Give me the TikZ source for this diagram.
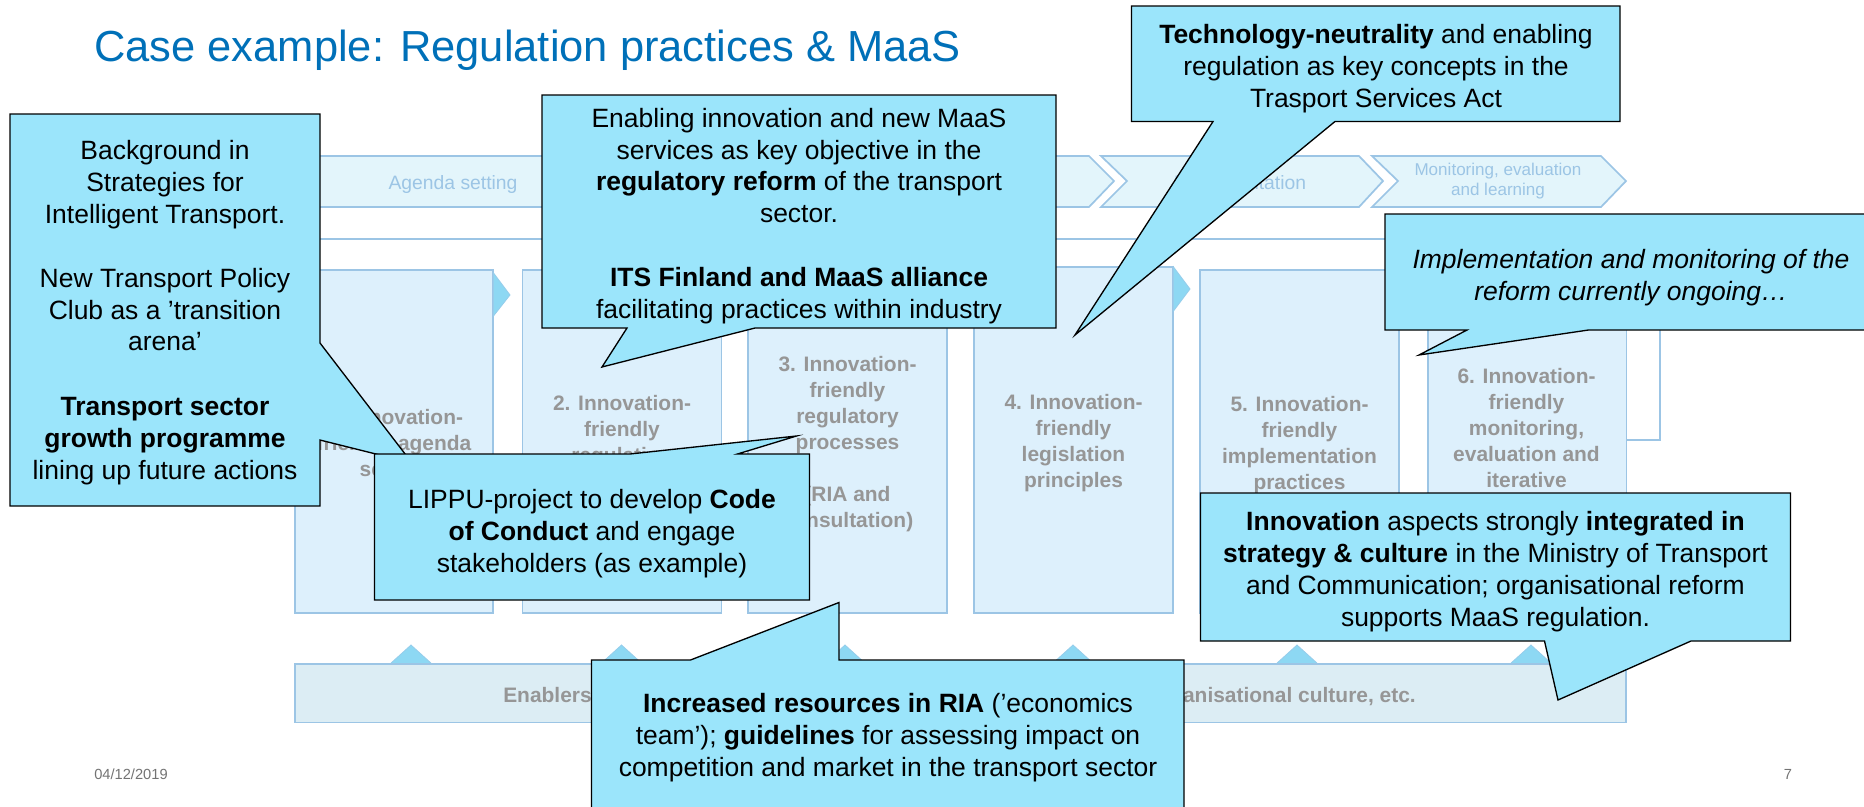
\documentclass[tikz,border=0pt]{standalone}
\usepackage{fontspec}
\setmainfont{Liberation Sans}
\definecolor{callfill}{HTML}{9BE5FB}
\definecolor{linkblue}{HTML}{9CC5E5}
\definecolor{chevfill}{HTML}{E3F5FB}
\definecolor{boxfill}{HTML}{DDF0FC}
\definecolor{barfill}{HTML}{DCEDF4}
\definecolor{trifill}{HTML}{8DD8F3}
\definecolor{greytext}{HTML}{969696}
\definecolor{titleblue}{HTML}{0070B8}
\definecolor{chevtext}{HTML}{9CC5E5}
\tikzset{
  callshape/.style={draw=black,fill=callfill,line width=1pt,line join=miter,miter limit=20},
  calltext/.style={font=\fontsize{19.85}{23.9}\selectfont,align=center,inner sep=0pt,text=black},
  chevshape/.style={draw=linkblue,fill=chevfill,line width=1.3pt},
  chevlabel/.style={font=\fontsize{14.5}{18}\selectfont,align=center,inner sep=0pt,text=chevtext},
  stagebox/.style={draw=linkblue,fill=boxfill,line width=1.2pt},
  stagetext/.style={font=\fontsize{15.7}{19.5}\selectfont\bfseries,align=center,inner sep=0pt,text=greytext},
  triangleshape/.style={draw=linkblue!60!trifill,fill=trifill,line width=.6pt},
  smallgrey/.style={font=\fontsize{11}{13}\selectfont,inner sep=0pt,text=black!55}
}
\begin{document}
\begin{tikzpicture}[x=0.75pt,y=-0.75pt]
\useasboundingbox (0,0) rectangle (1864,807);
\clip (0,0) rectangle (1864,807);
% title and footer
\node[anchor=base west,inner sep=0pt,text=titleblue,font=\fontsize{32.6}{38}\selectfont] (title) at (94,61) {Case example: Regulation practices \& MaaS};
\node[smallgrey,anchor=west] (date) at (94,774) {04/12/2019};
\node[smallgrey] (pagenum) at (1788,774) {7};
% feedback frame
\draw[draw=linkblue,line width=1.2pt] (1620,440) -- (1660,440) -- (1660,239) -- (296,239);
% chevrons
\draw[chevshape] (296,156) -- (585,156) -- (610,181) -- (585,207) -- (296,207) -- cycle;
\draw[chevshape] (597,156) -- (840,156) -- (865,181) -- (840,207) -- (597,207) -- (622,181) -- cycle;
\draw[chevshape] (852,156) -- (1089,156) -- (1114,181) -- (1089,207) -- (852,207) -- (877,181) -- cycle;
\draw[chevshape] (1101,156) -- (1359,156) -- (1383,181) -- (1359,207) -- (1101,207) -- (1127,181) -- cycle;
\draw[chevshape] (1372,156) -- (1601,156) -- (1626,181) -- (1601,207) -- (1372,207) -- (1398,181) -- cycle;
\node[chevlabel] (chevA) at (453,184) {Agenda setting};
\node[chevlabel] (chevE) at (1240,184) {Implementation};
\node[chevlabel,font=\fontsize{12.8}{14.4}\selectfont] (chevF) at (1498,181) {Monitoring, evaluation\\and learning};
% stage boxes
\draw[stagebox] (295,270) rectangle (493,613);
\draw[stagebox] (522.5,270) rectangle (721.5,613);
\draw[stagebox] (748,270) rectangle (947,613);
\draw[stagebox] (974,267) rectangle (1173,613);
\draw[stagebox] (1200,270) rectangle (1399,613);
\draw[stagebox] (1428,270) rectangle (1626.5,613);
% stage arrows
\draw[triangleshape] (493.5,273) -- (510,295) -- (493.5,316) -- cycle;
\draw[triangleshape] (1173.5,267) -- (1190,289) -- (1173.5,311) -- cycle;
% stage texts
\node[stagetext] (s1) at (394,445.5) {1. Innovation-\\friendly agenda\\setting};
\node[stagetext] (s2) at (622,431.5) {2. Innovation-\\friendly\\regulation};
\node[stagetext] (s3) at (847.5,444) {3. Innovation-\\friendly\\regulatory\\processes\\[19.5pt](RIA and\\consultation)};
\node[stagetext] (s4) at (1073.5,443) {4. Innovation-\\friendly\\legislation\\principles};
\node[stagetext] (s5) at (1299.5,445) {5. Innovation-\\friendly\\implementation\\practices};
\node[stagetext] (s6) at (1526.5,428) {6. Innovation-\\friendly\\monitoring,\\evaluation and\\iterative};
% enablers
\foreach \tx/\nm in {411/a,621.5/b,845/c,1073/d,1297/e,1531/f}{
  \draw[triangleshape] (\tx-21,664) -- (\tx,645) -- (\tx+21,664) -- cycle;
}
\draw[draw=linkblue,fill=barfill,line width=1.2pt] (295,664) rectangle (1626,722.5);
\node[stagetext,anchor=base west] (enA) at (503,702) {Enablers};
\node[stagetext,anchor=base east] (enB) at (1416,702) {organisational culture, etc.};
% callouts
\draw[callshape] (10,114) -- (320,114) -- (320,343) -- (412,463) -- (320,440) -- (320,506) -- (10,506) -- cycle;
\node[calltext] (c1) at (165,312.5) {Background in\\Strategies for\\Intelligent Transport.\\[23.9pt]New Transport Policy\\Club as a ’transition\\arena’\\[24.4pt]\textbf{Transport sector}\\\textbf{growth programme}\\lining up future actions};
\draw[callshape] (542,95) -- (1056,95) -- (1056,328) -- (755,328) -- (602,367) -- (627,328) -- (542,328) -- cycle;
\node[calltext] (c2) at (799,216) {Enabling innovation and new MaaS\\services as key objective in the\\\textbf{regulatory reform} of the transport\\sector.\\[23.9pt]\textbf{ITS Finland and MaaS alliance}\\facilitating practices within industry};
\draw[callshape] (1131.5,6) -- (1620,6) -- (1620,121.5) -- (1335,121.5) -- (1075,335) -- (1213,121.5) -- (1131.5,121.5) -- cycle;
\node[calltext] (c3) at (1376,69) {\textbf{Technology-neutrality} and enabling\\regulation as key concepts in the\\Trasport Services Act};
\draw[callshape] (1385,214) -- (1880,214) -- (1880,330) -- (1588.5,330) -- (1419,355) -- (1467,330) -- (1385,330) -- cycle;
\node[calltext,font=\fontsize{19.85}{23.9}\selectfont\itshape] (c4) at (1631,277.5) {Implementation and monitoring of the\\reform currently ongoing…};
\draw[callshape] (374.5,454) -- (630,454) -- (796.5,436) -- (737.5,454) -- (809.5,454) -- (809.5,600) -- (374.5,600) -- cycle;
\node[calltext] (c5) at (592,533.5) {LIPPU-project to develop \textbf{Code}\\\textbf{of Conduct} and engage\\stakeholders (as example)};
\draw[callshape] (1200.5,493) -- (1790.5,493) -- (1790.5,641) -- (1691,641) -- (1558,700) -- (1544.5,641) -- (1200.5,641) -- cycle;
\node[calltext] (c6) at (1495.5,571.5) {\textbf{Innovation} aspects strongly \textbf{integrated in}\\\textbf{strategy \& culture} in the Ministry of Transport\\and Communication; organisational reform\\supports MaaS regulation.};
\draw[callshape] (591.5,660) -- (690.5,660) -- (839,602.5) -- (839,660) -- (1184,660) -- (1184,820) -- (591.5,820) -- cycle;
\node[calltext] (c7) at (888,738) {\textbf{Increased resources in RIA} (’economics\\team’); \textbf{guidelines} for assessing impact on\\competition and market in the transport sector};
\end{tikzpicture}
\end{document}
